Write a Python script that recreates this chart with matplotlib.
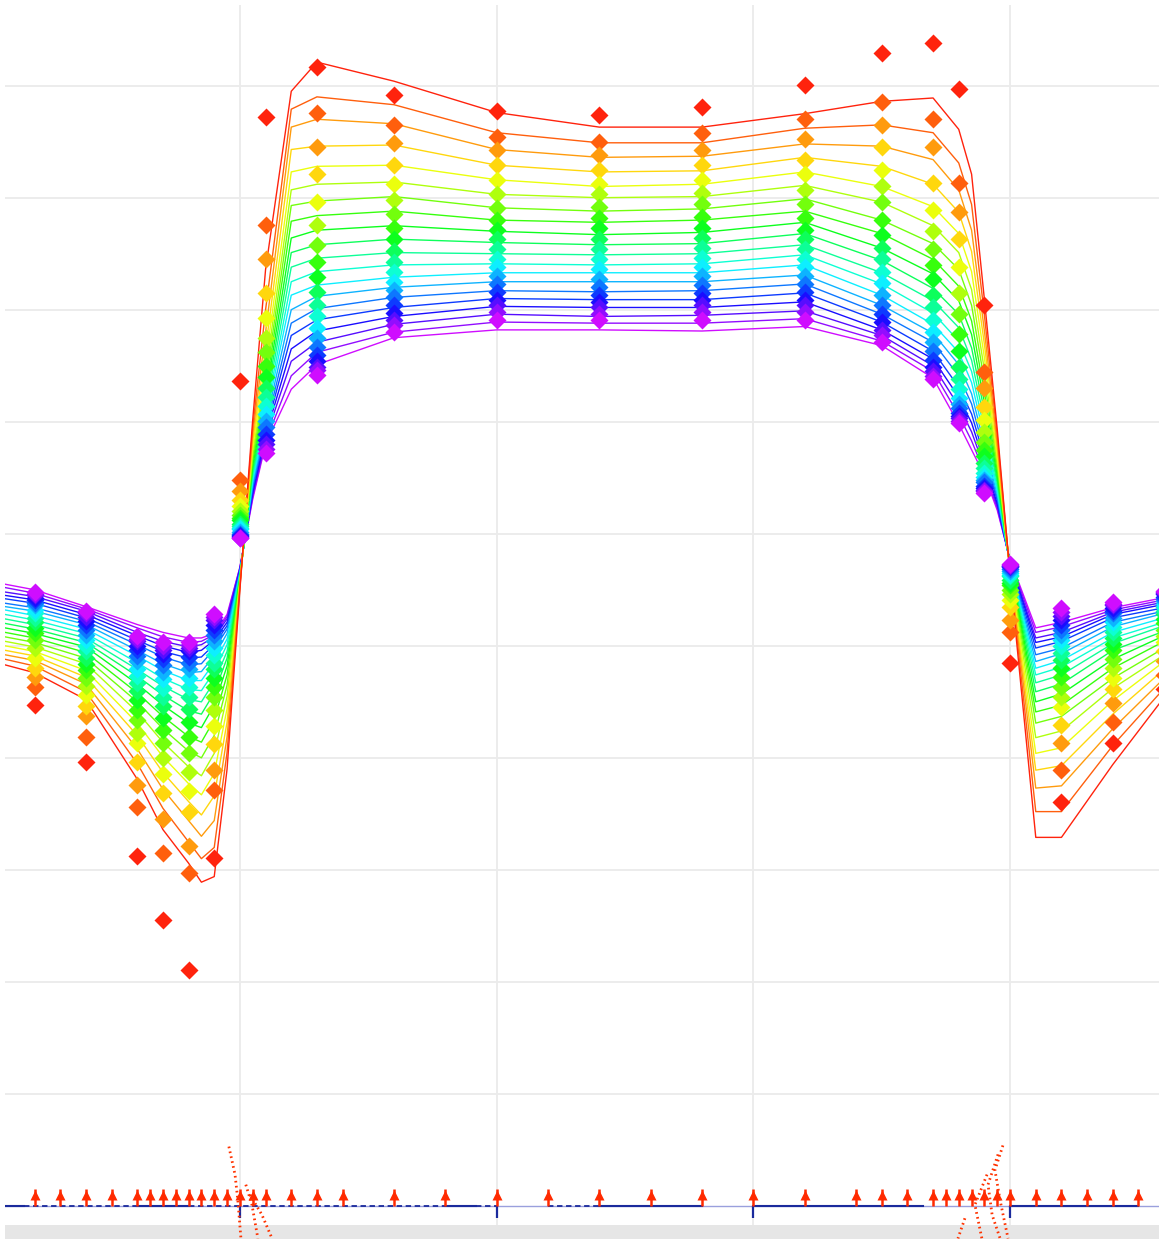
import colorsys
import numpy as np
import matplotlib
matplotlib.use("Agg")
import matplotlib.pyplot as plt

# node positions of the computed curves
line_x = [0.85, 2, 4, 6, 7, 8, 8.5, 9, 9.5, 10, 10.5, 11, 12, 13, 16, 20, 24, 28,
          32, 35, 37, 38, 38.5, 39, 39.5, 40, 41, 42, 44, 46]

# computed deflection per node, one value per load step (first = red, last = magenta)
curve_by_node = [
    [-11.7, -11.2, -10.8, -10.4, -10.0, -9.6, -9.2, -8.8, -8.4, -8.0, -7.6, -7.2, -6.8, -6.5, -6.2, -5.8, -5.5, -5.2, -4.8, -4.5],
    [-12.4, -11.8, -11.3, -10.9, -10.5, -10.1, -9.7, -9.3, -8.9, -8.5, -8.1, -7.7, -7.3, -6.9, -6.6, -6.2, -5.9, -5.6, -5.3, -5.0],
    [-14.8, -14.1, -13.4, -12.8, -12.2, -11.6, -11.1, -10.6, -10.1, -9.7, -9.3, -8.9, -8.5, -8.1, -7.8, -7.5, -7.2, -6.9, -6.7, -6.5],
    [-21.9, -20.5, -19.2, -18.0, -16.9, -15.9, -15.0, -14.2, -13.4, -12.7, -12.1, -11.5, -10.9, -10.4, -9.9, -9.5, -9.1, -8.8, -8.4, -8.1],
    [-26.4, -24.5, -22.8, -21.3, -19.9, -18.6, -17.4, -16.3, -15.3, -14.4, -13.6, -12.9, -12.2, -11.6, -11.0, -10.5, -10.0, -9.6, -9.2, -8.8],
    [-29.4, -27.5, -25.6, -23.9, -22.3, -20.8, -19.4, -18.1, -16.9, -15.8, -14.8, -13.9, -13.1, -12.4, -11.7, -11.1, -10.6, -10.1, -9.7, -9.3],
    [-31.1, -29.0, -27.0, -25.1, -23.3, -21.6, -20.0, -18.6, -17.3, -16.1, -15.0, -14.0, -13.1, -12.3, -11.6, -11.0, -10.4, -9.9, -9.6, -9.3],
    [-30.6, -28.0, -25.6, -23.4, -21.4, -19.6, -18.0, -16.6, -15.3, -14.2, -13.2, -12.3, -11.5, -10.9, -10.3, -9.9, -9.5, -9.2, -9.0, -8.9],
    [-21.0, -19.5, -18.1, -16.8, -15.6, -14.5, -13.5, -12.6, -11.8, -11.1, -10.5, -9.9, -9.4, -8.9, -8.5, -8.2, -7.9, -7.6, -7.4, -7.2],
    [-5.0, -4.8, -4.6, -4.5, -4.4, -4.3, -4.2, -4.1, -4.0, -3.9, -3.8, -3.7, -3.6, -3.5, -3.4, -3.3, -3.2, -3.1, -3.0, -3.0],
    [10.2, 9.5, 8.9, 8.3, 7.8, 7.3, 6.9, 6.5, 6.1, 5.7, 5.4, 5.1, 4.8, 4.5, 4.2, 4.0, 3.7, 3.5, 3.3, 3.1],
    [23.6, 20.0, 18.0, 16.5, 15.3, 14.3, 13.5, 12.8, 12.2, 11.6, 11.1, 10.6, 10.2, 9.8, 9.4, 9.1, 8.8, 8.5, 8.2, 8.0],
    [39.5, 37.9, 36.3, 34.3, 32.3, 30.7, 29.3, 27.9, 26.4, 25.1, 23.8, 22.5, 21.3, 20.0, 18.8, 17.7, 16.5, 15.4, 14.1, 12.9],
    [42.1, 39.0, 37.0, 34.6, 32.8, 31.2, 29.7, 28.4, 27.1, 25.8, 24.6, 23.4, 22.2, 21.2, 20.1, 19.1, 18.1, 17.1, 16.2, 15.1],
    [40.4, 38.3, 36.6, 34.7, 32.9, 31.4, 30.1, 28.8, 27.5, 26.3, 25.1, 24.0, 22.9, 22.0, 21.1, 20.2, 19.4, 18.7, 18.0, 17.5],
    [37.6, 35.8, 34.3, 32.9, 31.6, 30.3, 29.1, 28.0, 27.0, 26.0, 25.0, 24.1, 23.3, 22.5, 21.7, 21.0, 20.3, 19.6, 18.9, 18.2],
    [36.3, 34.9, 33.6, 32.3, 31.0, 30.0, 28.8, 27.8, 26.7, 25.8, 24.9, 24.0, 23.3, 22.5, 21.6, 20.9, 20.2, 19.4, 18.8, 18.2],
    [36.3, 34.9, 33.7, 32.4, 31.2, 30.1, 29.0, 28.0, 26.9, 25.9, 25.0, 24.1, 23.3, 22.5, 21.7, 20.9, 20.2, 19.5, 18.8, 18.1],
    [37.5, 36.2, 34.8, 33.6, 32.3, 31.1, 29.9, 28.8, 27.8, 26.8, 25.8, 24.9, 24.0, 23.1, 22.3, 21.5, 20.7, 19.9, 19.2, 18.5],
    [38.6, 36.5, 34.6, 32.8, 31.0, 29.6, 28.0, 26.8, 25.5, 24.4, 23.3, 22.3, 21.3, 20.4, 19.6, 18.9, 18.2, 17.7, 17.2, 16.8],
    [38.9, 35.8, 33.4, 31.2, 29.2, 27.5, 25.9, 24.5, 23.2, 21.9, 20.8, 19.7, 18.7, 17.9, 17.1, 16.3, 15.6, 15.0, 14.5, 13.9],
    [36.1, 33.1, 30.7, 28.7, 26.8, 25.1, 23.6, 22.1, 20.8, 19.6, 18.4, 17.2, 16.2, 15.1, 14.1, 13.1, 12.2, 11.4, 10.6, 9.8],
    [32.1, 29.4, 27.1, 25.2, 23.4, 21.8, 20.4, 19.0, 17.8, 16.6, 15.5, 14.5, 13.5, 12.5, 11.6, 10.7, 9.9, 9.1, 8.3, 7.5],
    [20.9, 19.5, 18.1, 16.9, 15.7, 14.6, 13.6, 12.6, 11.7, 10.9, 10.1, 9.3, 8.6, 7.9, 7.3, 6.8, 6.3, 5.9, 5.5, 5.2],
    [9.3, 8.7, 8.0, 7.5, 6.9, 6.5, 6.1, 5.6, 5.2, 4.8, 4.5, 4.1, 3.8, 3.5, 3.2, 3.0, 2.7, 2.5, 2.3, 2.1],
    [-3.7, -3.6, -3.5, -3.4, -3.3, -3.2, -3.1, -3.0, -2.95, -2.9, -2.85, -2.8, -2.75, -2.7, -2.65, -2.6, -2.5, -2.45, -2.4, -2.3],
    [-27.1, -24.8, -22.7, -21.1, -19.6, -18.2, -16.9, -15.9, -15.0, -14.1, -13.3, -12.6, -12.0, -11.4, -10.8, -10.2, -9.7, -9.3, -8.8, -8.4],
    [-27.1, -24.8, -22.5, -20.7, -19.1, -17.6, -16.3, -15.3, -14.3, -13.4, -12.6, -11.9, -11.3, -10.7, -10.2, -9.6, -9.2, -8.8, -8.3, -7.9],
    [-20.6, -18.9, -17.4, -16.1, -14.9, -13.8, -12.9, -12.0, -11.2, -10.4, -9.8, -9.3, -8.8, -8.3, -7.9, -7.5, -7.2, -7.0, -6.8, -6.6],
    [-14.6, -13.8, -12.9, -12.1, -11.4, -10.8, -10.2, -9.6, -9.1, -8.7, -8.2, -7.9, -7.5, -7.1, -6.9, -6.6, -6.3, -6.1, -5.9, -5.7],
]

# measuring points
obs_x = [2, 4, 6, 7, 8, 9, 10, 11, 13, 16, 20, 24, 28, 32, 35, 37, 38, 39, 40, 42, 44, 46]

obs_by_node = [
    [-15.3, -13.7, -12.8, -12.0, -11.1, -10.2, -9.5, -8.9, -8.4, -7.9, -7.5, -7.1, -6.8, -6.4, -6.2, -5.9, -5.7, -5.5, -5.4, -5.2],
    [-20.4, -18.1, -16.3, -15.4, -14.4, -13.6, -12.9, -12.2, -11.6, -11.1, -10.5, -10.0, -9.5, -9.0, -8.6, -8.1, -7.8, -7.4, -7.1, -6.9],
    [-28.8, -24.4, -22.4, -20.4, -18.7, -17.8, -16.6, -15.7, -14.8, -14.0, -13.3, -12.7, -12.1, -11.4, -10.9, -10.4, -10.0, -9.6, -9.4, -9.1],
    [-34.5, -28.5, -25.5, -23.1, -21.4, -20.0, -18.7, -17.5, -16.4, -15.4, -14.6, -13.8, -13.0, -12.3, -11.7, -11.2, -10.7, -10.4, -10.0, -9.7],
    [-38.9, -30.3, -27.9, -24.8, -23.0, -21.3, -19.6, -18.1, -16.8, -15.6, -14.6, -13.7, -12.9, -12.1, -11.5, -11.0, -10.5, -10.2, -9.9, -9.7],
    [-28.9, -22.9, -21.1, -18.8, -17.2, -15.7, -14.6, -13.7, -12.9, -12.1, -11.5, -10.8, -10.2, -9.6, -9.0, -8.6, -8.1, -7.7, -7.4, -7.2],
    [13.6, 4.8, 3.8, 3.0, 2.5, 2.0, 1.7, 1.4, 1.2, 0.9, 0.7, 0.5, 0.4, 0.2, 0.0, -0.1, -0.2, -0.3, -0.4, -0.4],
    [37.2, 27.6, 24.5, 21.5, 19.3, 17.5, 16.2, 15.0, 14.0, 13.0, 12.2, 11.4, 10.7, 10.1, 9.5, 8.9, 8.4, 8.0, 7.6, 7.2],
    [41.7, 37.6, 34.5, 32.1, 29.6, 27.6, 25.8, 24.3, 22.9, 21.6, 20.4, 19.4, 18.4, 17.5, 16.7, 16.0, 15.4, 14.9, 14.6, 14.2],
    [39.2, 36.5, 34.9, 32.9, 31.2, 29.8, 28.5, 27.3, 26.3, 25.2, 24.3, 23.4, 22.5, 21.8, 21.1, 20.4, 19.7, 19.1, 18.6, 18.0],
    [37.7, 35.4, 34.3, 32.9, 31.6, 30.3, 29.1, 28.0, 27.1, 26.3, 25.4, 24.5, 23.8, 23.0, 22.3, 21.6, 20.9, 20.4, 19.8, 19.1],
    [37.4, 35.0, 33.8, 32.5, 31.2, 30.3, 29.2, 28.2, 27.3, 26.3, 25.4, 24.5, 23.6, 22.7, 22.0, 21.3, 20.7, 20.2, 19.6, 19.1],
    [38.1, 35.8, 34.3, 32.9, 31.6, 30.4, 29.4, 28.3, 27.3, 26.4, 25.5, 24.6, 23.8, 23.0, 22.2, 21.5, 20.9, 20.4, 19.8, 19.1],
    [40.1, 37.0, 35.2, 33.4, 32.1, 30.7, 29.4, 28.2, 27.1, 26.3, 25.4, 24.5, 23.8, 23.0, 22.3, 21.6, 20.9, 20.4, 19.8, 19.1],
    [42.9, 38.5, 36.5, 34.5, 32.5, 31.0, 29.6, 28.0, 26.7, 25.5, 24.5, 23.4, 22.4, 21.3, 20.4, 19.6, 18.9, 18.2, 17.7, 17.1],
    [43.8, 37.0, 34.5, 31.3, 28.9, 27.0, 25.4, 24.0, 22.7, 21.3, 20.2, 19.1, 18.0, 17.1, 16.3, 15.5, 14.9, 14.5, 14.1, 13.8],
    [39.7, 31.3, 28.7, 26.3, 23.8, 21.5, 19.6, 17.8, 16.3, 14.9, 13.8, 12.9, 12.1, 11.6, 11.2, 10.8, 10.5, 10.3, 10.1, 9.9],
    [20.4, 14.4, 13.0, 11.3, 10.2, 9.1, 8.2, 7.5, 6.9, 6.3, 5.9, 5.4, 5.1, 4.8, 4.6, 4.3, 4.1, 3.9, 3.8, 3.6],
    [-11.5, -8.8, -7.7, -6.5, -5.9, -5.4, -5.0, -4.6, -4.4, -4.1, -3.8, -3.7, -3.5, -3.3, -3.1, -3.0, -2.9, -2.9, -2.8, -2.7],
    [-23.9, -21.1, -18.7, -17.1, -15.5, -14.6, -13.7, -12.8, -12.0, -11.3, -10.6, -10.0, -9.5, -9.0, -8.6, -8.1, -7.7, -7.3, -7.0, -6.6],
    [-18.7, -16.8, -15.1, -13.9, -12.9, -12.0, -11.2, -10.4, -9.8, -9.3, -8.8, -8.3, -7.9, -7.5, -7.1, -6.9, -6.6, -6.4, -6.3, -6.1],
    [-13.9, -12.6, -11.4, -10.5, -9.7, -9.1, -8.6, -8.0, -7.6, -7.2, -6.9, -6.5, -6.3, -6.0, -5.8, -5.6, -5.4, -5.3, -5.2, -5.1],
]

# load arrows along the beam
load_x = [2, 3, 4, 5, 6, 6.5, 7, 7.5, 8, 8.5, 9, 9.5, 10, 10.5, 11, 12, 13, 14, 16, 18,
          20, 22, 24, 26, 28, 30, 32, 34, 35, 36, 37, 37.5, 38, 38.5, 39, 39.5, 40,
          41, 42, 43, 44, 45]
support_x = [10, 20, 30, 40]
beam_solid = [(0.85, 1.6), (6, 8), (18, 19.2), (24, 28), (30, 36.6), (40, 45)]
beam_dashed = [(1.6, 6), (8, 18), (19.2, 20), (22, 24)]

# spring hatching near the two inner supports
springs = [
    ([9.57, 9.81, 9.92, 10.04], [-54.7, -57.2, -59.5, -62.9]),
    ([10.23, 10.47, 10.70], [-58.1, -59.9, -62.9]),
    ([10.39, 10.86, 11.25], [-59.0, -60.8, -62.9]),
    ([39.72, 39.41, 39.61, 39.92], [-54.6, -56.8, -59.5, -62.9]),
    ([39.53, 39.14, 39.30, 39.61], [-55.4, -58.1, -60.8, -62.9]),
    ([39.10, 38.63, 38.90], [-57.2, -59.9, -62.9]),
    ([38.24, 37.97], [-61.1, -62.9]),
]

curves = np.array(curve_by_node).T
obs = np.array(obs_by_node).T
n = curves.shape[0]
colors = [colorsys.hsv_to_rgb(h, 0.95, 1.0) for h in np.linspace(0.015, 0.80, n)]

fig = plt.figure(figsize=(11.59, 12.39), dpi=100)
ax = fig.add_axes([5 / 1159, 0, 1 - 5 / 1159, 1 - 5 / 1239])

for i in reversed(range(n)):
    ax.plot(line_x, curves[i], color=colors[i], lw=1.0, zorder=2)
for i in range(n):
    ax.plot(obs_x, obs[i], 'D', ms=9.5, color=colors[i], mec='none', zorder=3)

# beam line
ax.plot([0.85, 45.8], [-60, -60], color='#9aa0dd', lw=1.0, zorder=4)
for a, b in beam_solid:
    ax.plot([a, b], [-60, -60], color='#1a2a9c', lw=1.5, zorder=4)
for a, b in beam_dashed:
    ax.plot([a, b], [-60, -60], color='#1a2a9c', lw=1.3, ls=(0, (3, 2)), zorder=4)
ax.vlines(support_x, -61.1, -60, color='#1a2a9c', lw=1.6, zorder=4)

# loads
ax.vlines(load_x, -60, -58.5, color='#ff2a00', lw=1.8, zorder=5)
ax.plot(load_x, [-59.0] * len(load_x), '^', ms=6.5, color='#ff2a00', mec='none', zorder=5)

for sx, sy in springs:
    ax.plot(sx, sy, color='#ff3300', lw=2.0, ls=(0, (0.6, 1.2)), zorder=5)

ax.axhspan(-63.5, -61.7, color='#e6e6e6', zorder=0.6, lw=0)

ax.set_xlim(0.85, 45.8)
ax.set_ylim(-62.95, 47.2)
ax.set_xticks([10, 20, 30, 40])
ax.set_yticks(range(-50, 50, 10))
ax.grid(True, color='#ebebeb', lw=1.3)
ax.set_axisbelow(True)
ax.tick_params(length=0, labelleft=False, labelbottom=False)
for s in ax.spines.values():
    s.set_visible(False)

fig.savefig("out.png", dpi=100)
